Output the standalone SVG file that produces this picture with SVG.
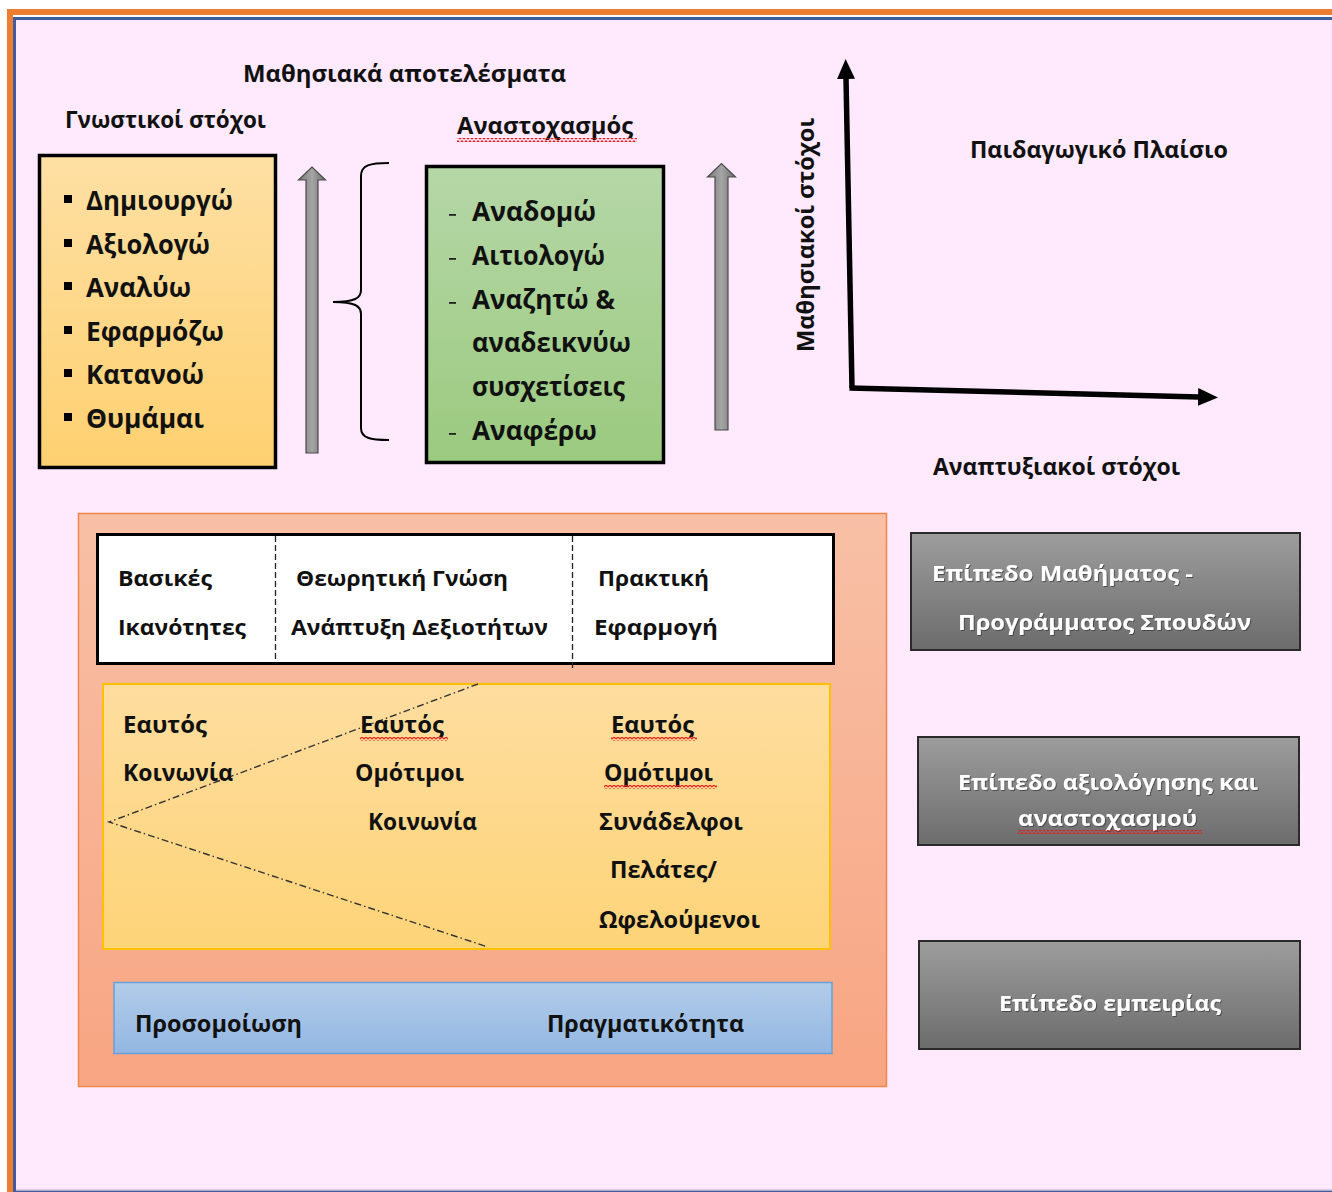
<svg xmlns="http://www.w3.org/2000/svg" width="1332" height="1192" viewBox="0 0 1332 1192">
<defs>
<style>
text{font-family:"Open Sans","Noto Sans","DejaVu Sans",sans-serif;font-weight:700;fill:#111;}
.h{font-size:23px;}
.li{font-size:26px;}
.t{font-size:22px;}
.y{font-size:23px;}
.w{font-size:22px;fill:#fff;filter:url(#ts);}
.gbox{fill:url(#gGray);stroke:#2a2a2a;stroke-width:2;}
.dash{stroke:#222;stroke-width:1.3;stroke-dasharray:6 3;fill:none;}
.dd{stroke:#333;stroke-width:1.4;stroke-dasharray:7 3 1.5 3;fill:none;}
.uarr{fill:url(#gArr);stroke:#4a4a4a;stroke-width:1.2;}
.wave{fill:url(#wave);}
</style>
<linearGradient id="gOr" x1="0" y1="0" x2="0" y2="1"><stop offset="0" stop-color="#f8c0a6"/><stop offset="1" stop-color="#f8a582"/></linearGradient>
<linearGradient id="gY" x1="0" y1="0" x2="0" y2="1"><stop offset="0" stop-color="#fedd9f"/><stop offset="1" stop-color="#fed478"/></linearGradient>
<linearGradient id="gYL" x1="0" y1="0" x2="0" y2="1"><stop offset="0" stop-color="#fee0a4"/><stop offset="1" stop-color="#fed070"/></linearGradient>
<linearGradient id="gG" x1="0" y1="0" x2="0" y2="1"><stop offset="0" stop-color="#b5d7a7"/><stop offset="1" stop-color="#9bca7f"/></linearGradient>
<linearGradient id="gB" x1="0" y1="0" x2="0" y2="1"><stop offset="0" stop-color="#b2cce9"/><stop offset="1" stop-color="#93b7e2"/></linearGradient>
<linearGradient id="gGray" x1="0" y1="0" x2="0" y2="1"><stop offset="0" stop-color="#9d9d9d"/><stop offset="1" stop-color="#6c6c6c"/></linearGradient>
<linearGradient id="gArr" x1="0" y1="0" x2="1" y2="0"><stop offset="0" stop-color="#7a7a7a"/><stop offset="0.5" stop-color="#a5a5a5"/><stop offset="1" stop-color="#6e6e6e"/></linearGradient>
<pattern id="wave" width="4" height="4" patternUnits="userSpaceOnUse"><path d="M0,3.2 L2,0.8 L4,3.2" fill="none" stroke="#e41c1c" stroke-width="1.2"/></pattern>
<filter id="ts" x="-5%" y="-20%" width="110%" height="140%"><feDropShadow dx="1" dy="1" stdDeviation="0.6" flood-color="#333" flood-opacity="0.7"/></filter>
<marker id="ah" markerWidth="22" markerHeight="20" refX="1" refY="9" orient="auto" markerUnits="userSpaceOnUse"><path d="M0,0 L20,9 L0,18 z" fill="#000"/></marker>
</defs>

<!-- frame -->
<g id="frame">
<rect x="0" y="0" width="1332" height="1192" fill="#fff"/>
<rect x="7" y="9" width="1325" height="1183" fill="#ed7d31"/>
<rect x="13" y="15" width="1319" height="1177" fill="#fff"/>
<rect x="13" y="17" width="1319" height="1175" fill="#3f5c9c"/>
<rect x="16" y="20" width="1316" height="1170" fill="#fee9fd"/>
<rect x="16" y="1189.5" width="1316" height="1.5" fill="#b4aec8"/>
</g>

<!-- titles -->
<g id="titles">
<text class="h" x="243" y="82" textLength="323" lengthAdjust="spacingAndGlyphs">Μαθησιακά αποτελέσματα</text>
<text class="h" x="65" y="128" textLength="201" lengthAdjust="spacingAndGlyphs">Γνωστικοί στόχοι</text>
<text class="h" x="457" y="134" textLength="176" lengthAdjust="spacingAndGlyphs">Αναστοχασμός</text>
<rect class="wave" x="457" y="138" width="180" height="4"/>
<text class="h" x="970" y="158" textLength="258" lengthAdjust="spacingAndGlyphs">Παιδαγωγικό Πλαίσιο</text>
<text class="h" x="933" y="475" textLength="247" lengthAdjust="spacingAndGlyphs">Αναπτυξιακοί στόχοι</text>
<text class="h" transform="translate(814,352) rotate(-90)" x="0" y="0" textLength="234" lengthAdjust="spacingAndGlyphs">Μαθησιακοί στόχοι</text>
</g>

<!-- cognitive goals box -->
<g id="cognitive">
<rect x="39.5" y="155.5" width="236" height="312" fill="url(#gYL)" stroke="#000" stroke-width="3.5"/>
<g fill="#000">
<rect x="64" y="195" width="8" height="8"/>
<rect x="64" y="239" width="8" height="8"/>
<rect x="64" y="282" width="8" height="8"/>
<rect x="64" y="326" width="8" height="8"/>
<rect x="64" y="369" width="8" height="8"/>
<rect x="64" y="413" width="8" height="8"/>
</g>
<text class="li" x="86" y="210" textLength="147" lengthAdjust="spacingAndGlyphs">Δημιουργώ</text>
<text class="li" x="86" y="254" textLength="124" lengthAdjust="spacingAndGlyphs">Αξιολογώ</text>
<text class="li" x="86" y="297" textLength="105" lengthAdjust="spacingAndGlyphs">Αναλύω</text>
<text class="li" x="86" y="341" textLength="138" lengthAdjust="spacingAndGlyphs">Εφαρμόζω</text>
<text class="li" x="86" y="384" textLength="118" lengthAdjust="spacingAndGlyphs">Κατανοώ</text>
<text class="li" x="86" y="428" textLength="118" lengthAdjust="spacingAndGlyphs">Θυμάμαι</text>
</g>

<!-- reflection box -->
<g id="reflection">
<rect x="426.5" y="166.5" width="237" height="296" fill="url(#gG)" stroke="#000" stroke-width="3.5"/>
<g fill="#222">
<rect x="449" y="214" width="7" height="1.8"/>
<rect x="449" y="258" width="7" height="1.8"/>
<rect x="449" y="302" width="7" height="1.8"/>
<rect x="449" y="433" width="7" height="1.8"/>
</g>
<text class="li" x="472" y="221" textLength="124" lengthAdjust="spacingAndGlyphs">Αναδομώ</text>
<text class="li" x="472" y="265" textLength="133" lengthAdjust="spacingAndGlyphs">Αιτιολογώ</text>
<text class="li" x="472" y="309" textLength="143" lengthAdjust="spacingAndGlyphs">Αναζητώ &amp;</text>
<text class="li" x="472" y="352" textLength="159" lengthAdjust="spacingAndGlyphs">αναδεικνύω</text>
<text class="li" x="472" y="396" textLength="153" lengthAdjust="spacingAndGlyphs">συσχετίσεις</text>
<text class="li" x="472" y="440" textLength="125" lengthAdjust="spacingAndGlyphs">Αναφέρω</text>
</g>

<!-- lower framework -->
<g id="framework">
<rect x="78.5" y="513.5" width="808" height="573" fill="url(#gOr)" stroke="#f0874a" stroke-width="1.5"/>
</g>

<g id="competences-table">
<rect x="97.5" y="534.5" width="736" height="129" fill="#fff" stroke="#000" stroke-width="3"/>
<line class="dash" x1="275.5" y1="536" x2="275.5" y2="662"/>
<line class="dash" x1="572.5" y1="536" x2="572.5" y2="668"/>
<text class="t" x="118" y="586" textLength="94" lengthAdjust="spacingAndGlyphs">Βασικές</text>
<text class="t" x="118" y="635" textLength="128" lengthAdjust="spacingAndGlyphs">Ικανότητες</text>
<text class="t" x="296" y="586" textLength="212" lengthAdjust="spacingAndGlyphs">Θεωρητική Γνώση</text>
<text class="t" x="291" y="635" textLength="257" lengthAdjust="spacingAndGlyphs">Ανάπτυξη Δεξιοτήτων</text>
<text class="t" x="598" y="586" textLength="111" lengthAdjust="spacingAndGlyphs">Πρακτική</text>
<text class="t" x="594" y="635" textLength="124" lengthAdjust="spacingAndGlyphs">Εφαρμογή</text>
</g>

<g id="social-circles">
<rect x="103" y="684" width="727" height="265" fill="url(#gY)" stroke="#ffc000" stroke-width="2"/>
<path class="dd" d="M478,684 L109,822 L488,947"/>
<text class="y" x="123" y="733" textLength="84" lengthAdjust="spacingAndGlyphs">Εαυτός</text>
<text class="y" x="123" y="781" textLength="110" lengthAdjust="spacingAndGlyphs">Κοινωνία</text>
<text class="y" x="360" y="733" textLength="84" lengthAdjust="spacingAndGlyphs">Εαυτός</text>
<rect class="wave" x="360" y="737" width="88" height="4"/>
<text class="y" x="355" y="781" textLength="109" lengthAdjust="spacingAndGlyphs">Ομότιμοι</text>
<text class="y" x="368" y="830" textLength="109" lengthAdjust="spacingAndGlyphs">Κοινωνία</text>
<text class="y" x="611" y="733" textLength="83" lengthAdjust="spacingAndGlyphs">Εαυτός</text>
<rect class="wave" x="611" y="737" width="86" height="4"/>
<text class="y" x="604" y="781" textLength="109" lengthAdjust="spacingAndGlyphs">Ομότιμοι</text>
<rect class="wave" x="604" y="785" width="113" height="4"/>
<text class="y" x="599" y="830" textLength="144" lengthAdjust="spacingAndGlyphs">Συνάδελφοι</text>
<text class="y" x="610" y="878" textLength="107" lengthAdjust="spacingAndGlyphs">Πελάτες/</text>
<text class="y" x="599" y="928" textLength="161" lengthAdjust="spacingAndGlyphs">Ωφελούμενοι</text>
</g>

<g id="simulation-reality">
<rect x="114" y="982.5" width="718" height="71" fill="url(#gB)" stroke="#6a9fd8" stroke-width="1.5"/>
<text class="y" x="135" y="1032" textLength="167" lengthAdjust="spacingAndGlyphs">Προσομοίωση</text>
<text class="y" x="547" y="1032" textLength="197" lengthAdjust="spacingAndGlyphs">Πραγματικότητα</text>
</g>

<!-- level boxes -->
<g id="level-course">
<rect class="gbox" x="911" y="533" width="389" height="117"/>
<text class="w" x="932" y="581" textLength="261" lengthAdjust="spacingAndGlyphs">Επίπεδο Μαθήματος -</text>
<text class="w" x="958" y="630" textLength="293" lengthAdjust="spacingAndGlyphs">Προγράμματος Σπουδών</text>
</g>
<g id="level-assessment">
<rect class="gbox" x="918" y="737" width="381" height="108"/>
<text class="w" x="958" y="790" textLength="300" lengthAdjust="spacingAndGlyphs">Επίπεδο αξιολόγησης και</text>
<text class="w" x="1018" y="826" textLength="179" lengthAdjust="spacingAndGlyphs">αναστοχασμού</text>
<rect class="wave" x="1018" y="830" width="184" height="4"/>
</g>
<g id="level-experience">
<rect class="gbox" x="919" y="941" width="381" height="108"/>
<text class="w" x="999" y="1011" textLength="222" lengthAdjust="spacingAndGlyphs">Επίπεδο εμπειρίας</text>
</g>

<!-- connectors -->
<g id="connectors">
<path class="uarr" d="M306,453 L306,180 L298.5,180 L312,167 L325.5,180 L318,180 L318,453 Z"/>
<path class="uarr" d="M715,430 L715,177 L707.5,177 L721.5,163.5 L735.5,177 L728,177 L728,430 Z"/>
<path d="M389,163 C370,163 361,165 361,176 L361,290 C361,298 355,302 333,302 C355,302 361,306 361,314 L361,428 C361,438 370,440 389,440" fill="none" stroke="#000" stroke-width="2"/>
<path d="M852,388 L846,78" fill="none" stroke="#000" stroke-width="5.5" marker-end="url(#ah)"/>
<path d="M849.5,388 L1199,397" fill="none" stroke="#000" stroke-width="5.5" marker-end="url(#ah)"/>
</g>
</svg>
